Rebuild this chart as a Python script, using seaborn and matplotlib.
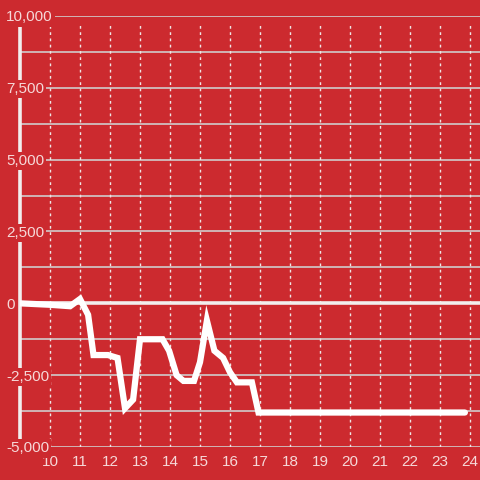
import numpy as np
import pandas as pd
import matplotlib
matplotlib.use("Agg")
import matplotlib.pyplot as plt
import seaborn as sns

# --- DATA ---
hours = [9.0, 10.0, 10.67, 11.0, 11.27, 11.45, 11.93, 12.25, 12.5, 12.77, 13.0,
         13.75, 13.97, 14.22, 14.45, 14.8, 15.0, 15.23, 15.48, 15.77, 16.0,
         16.23, 16.73, 16.95, 23.83]
values = [0, -50, -100, 150, -400, -1800, -1800, -1900, -3650, -3350, -1250,
          -1250, -1650, -2500, -2700, -2700, -2050, -600, -1650, -1900, -2400,
          -2750, -2750, -3800, -3800]
x_ticks = list(range(10, 25))
y_major = [-5000, -2500, 0, 2500, 5000, 7500, 10000]
y_minor = [-3750, -1250, 1250, 3750, 6250, 8750]

df = pd.DataFrame({"hour": hours, "value": values})

bg = "#CC2A2F"
label_col = "#F6D8D8"

sns.set_theme(style="white")
plt.rcParams['font.family'] = ['Liberation Sans', 'DejaVu Sans']

fig = plt.figure(figsize=(4.8, 4.8), dpi=100, facecolor=bg)
ax = fig.add_axes([20 / 480, 33 / 480, 460 / 480, 431 / 480])
ax.set_facecolor(bg)

ax.set_xlim(9.0, 24.333)
ax.set_ylim(-5000, 10000)

# grid
for v in y_major + y_minor:
    if v == 0:
        continue
    ax.axhline(v, color="#D0CCCC", lw=1.2, zorder=1)
for v in x_ticks:
    ax.plot([v, v], [-5000, 9800], color="#EEE6E6", lw=1.0,
            ls=(0, (2, 2.5)), zorder=1)
ax.axhline(0, color="#F2EEEE", lw=2.6, zorder=2)

sns.lineplot(data=df, x="hour", y="value", ax=ax, color="white", lw=4.5,
             zorder=3, solid_joinstyle="miter")

for s in ["top", "right", "bottom"]:
    ax.spines[s].set_visible(False)
ax.spines["left"].set_color("#F2EEEE")
ax.spines["left"].set_linewidth(2.6)
ax.spines["left"].set_zorder(2.2)
ax.yaxis.set_zorder(6)

ax.set_xticks(x_ticks)
ax.set_xticklabels([str(v) for v in x_ticks])
ax.set_yticks(y_major)
ax.set_yticklabels([f"{v:,}" for v in y_major])
ax.tick_params(axis="both", length=0, labelsize=11, colors=label_col)
ax.tick_params(axis="x", pad=6)
ax.tick_params(axis="y", pad=10)
for lab in ax.get_yticklabels():
    lab.set_horizontalalignment("left")
    lab.set_bbox(dict(facecolor=bg, edgecolor="none", pad=1.5))
ax.set_xlabel("")
ax.set_ylabel("")

fig.savefig("out.png", dpi=100, facecolor=bg)
